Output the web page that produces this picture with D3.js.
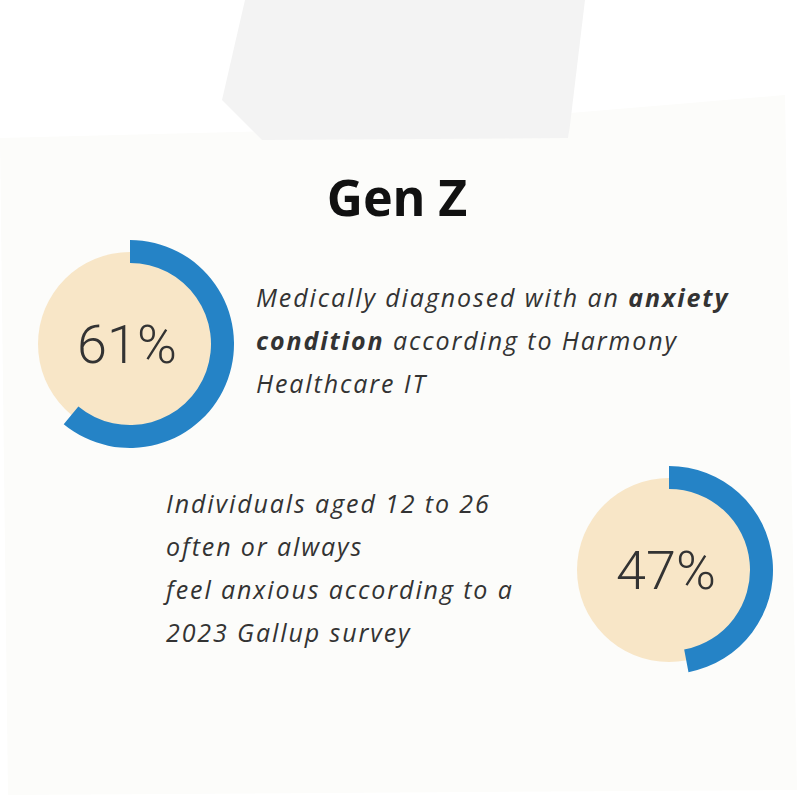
<!DOCTYPE html>
<html><head><meta charset="utf-8">
<script src="https://cdn.jsdelivr.net/npm/d3@7"></script>
<style>body{margin:0;background:#fff}</style>
</head><body>
<script>
const title = "Gen Z";
const values = [61, 47];
const labels = ["61%", "47%"];
const descriptions = [
  [[["Medically diagnosed with an ", false], ["anxiety", true]],
   [["condition", true], [" according to Harmony", false]],
   [["Healthcare IT", false]]],
  [[[" Individuals aged 12 to 26", false]],
   [["often or always", false]],
   [["feel anxious according to a", false]],
   [["2023 Gallup survey", false]]]
];
const centers = [[130, 344], [669, 570]];
const textPos = [[256, 307], [166, 513]];

const svg = d3.select("body").append("svg").attr("width", 800).attr("height", 808);

// paper
svg.append("path")
  .attr("d", "M0,138 L390,128 L785,95 L797,790 L8,795 Z")
  .attr("fill", "#fcfcfa");
// tape
svg.append("path")
  .attr("d", "M245,0 L585,0 L570,125 L568,138 L262,140 L222,100 Z")
  .attr("fill", "#f3f3f3");

svg.append("text").attr("x", 397).attr("y", 216).attr("text-anchor", "middle")
  .attr("font-family", "Noto Sans").attr("font-weight", 700).attr("font-size", 50)
  .attr("fill", "#111").text(title);

const pct = d3.scaleLinear().domain([0, 100]).range([0, 2 * Math.PI]);
const arc = d3.arc().innerRadius(81).outerRadius(104).startAngle(0);

values.forEach((v, i) => {
  const g = svg.append("g").attr("transform", `translate(${centers[i]})`);
  g.append("circle").attr("r", 92).attr("fill", "#f8e6c7");
  g.append("path").attr("d", arc({endAngle: pct(v)})).attr("fill", "#2583c6");
  g.append("text").attr("x", -3).attr("y", 19).attr("text-anchor", "middle")
    .attr("font-family", "Roboto").attr("font-weight", 300).attr("font-size", 54)
    .attr("fill", "#333").text(labels[i]);

  const t = svg.append("text").attr("font-family", "Open Sans").attr("font-style", "italic")
    .attr("font-size", 25).attr("fill", "#333").attr("letter-spacing", 1.9);
  descriptions[i].forEach((line, j) => {
    line.forEach((seg, k) => {
      const s = t.append("tspan").text(seg[0]).attr("font-weight", seg[1] ? 700 : 400);
      if (k === 0) s.attr("x", textPos[i][0]).attr("y", textPos[i][1] + j * 43);
    });
  });
});
</script>
</body></html>
